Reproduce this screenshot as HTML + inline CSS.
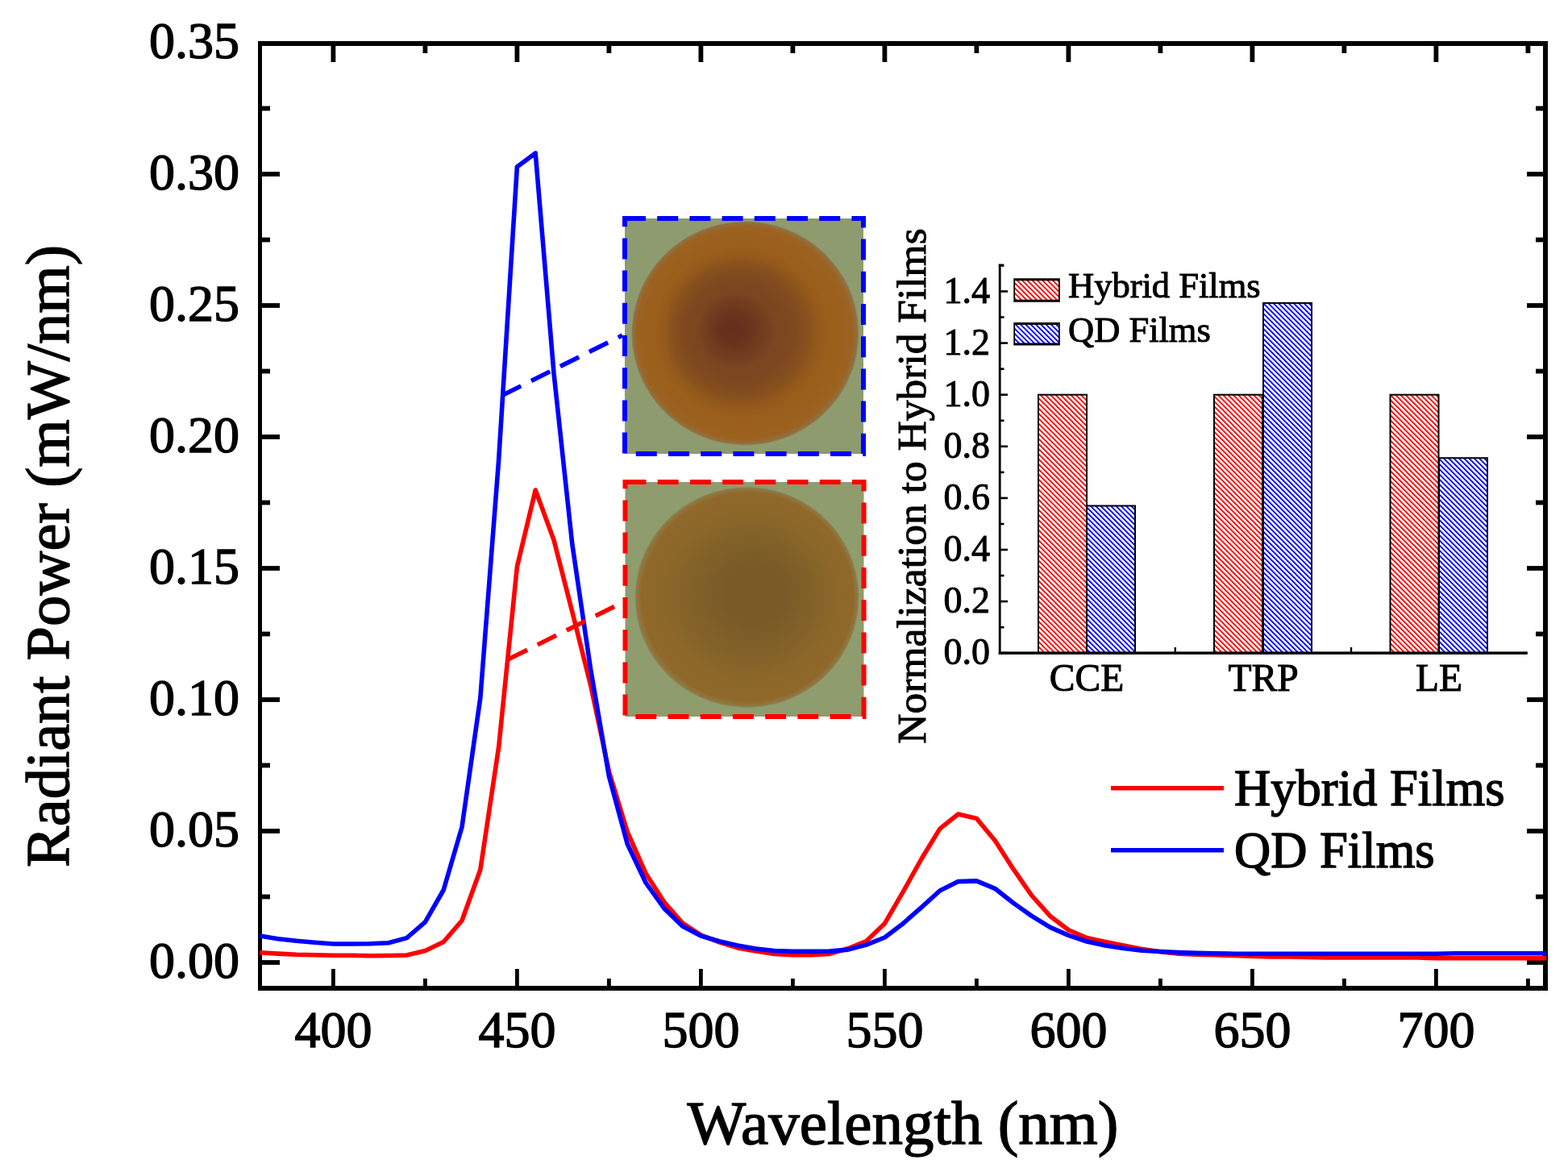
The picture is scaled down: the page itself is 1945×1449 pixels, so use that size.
<!DOCTYPE html>
<html><head><meta charset="utf-8"><title>Radiant Power spectrum</title>
<style>
html,body{margin:0;padding:0;background:#fff;}
svg{display:block}
text{font-family:'Liberation Serif','Times New Roman',serif;fill:#000;stroke:#000;stroke-width:1.4px}
.sm{stroke-width:1px}
</style></head><body>
<svg width="1945" height="1449" viewBox="0 0 1945 1449">
<defs>
<pattern id="hr" patternUnits="userSpaceOnUse" width="4.45" height="20" patternTransform="rotate(-45)">
<rect x="0" y="0" width="4.45" height="20" fill="#fff"/><rect x="0" y="0" width="1.9" height="20" fill="#ff0000"/></pattern>
<pattern id="hb" patternUnits="userSpaceOnUse" width="4.45" height="20" patternTransform="rotate(-45)">
<rect x="0" y="0" width="4.45" height="20" fill="#fff"/><rect x="0" y="0" width="1.9" height="20" fill="#0000ff"/></pattern>
<radialGradient id="gb" cx="0.5" cy="0.5" r="0.5" fx="0.44" fy="0.48">
<stop offset="0" stop-color="#64301c"/><stop offset="0.12" stop-color="#68331d"/><stop offset="0.24" stop-color="#713c1f"/>
<stop offset="0.34" stop-color="#7a4520"/><stop offset="0.5" stop-color="#7f4a1f"/><stop offset="0.6" stop-color="#88511d"/><stop offset="0.68" stop-color="#955a1b"/><stop offset="0.76" stop-color="#9b5e1b"/><stop offset="0.94" stop-color="#9c621f"/><stop offset="0.985" stop-color="#907042"/><stop offset="1" stop-color="#8e9b6e"/></radialGradient>
<radialGradient id="gr" cx="0.5" cy="0.5" r="0.5" fx="0.55" fy="0.48">
<stop offset="0" stop-color="#785926"/><stop offset="0.3" stop-color="#7b5b27"/><stop offset="0.55" stop-color="#836229"/>
<stop offset="0.75" stop-color="#8b6729"/><stop offset="0.94" stop-color="#90692a"/><stop offset="0.985" stop-color="#8d7a45"/><stop offset="1" stop-color="#8f9c6e"/></radialGradient>
</defs>

<rect x="775" y="271" width="296" height="292" fill="#8e9b6e"/>
<ellipse cx="924.5" cy="413.5" rx="141.5" ry="139.5" fill="url(#gb)"/>
<rect x="775.5" y="598" width="296" height="291" fill="#8f9c6e"/>
<ellipse cx="926.5" cy="741" rx="139.5" ry="137.5" fill="url(#gr)"/>
<rect x="775" y="271" width="296" height="292" fill="none" stroke="#0000ff" stroke-width="6" stroke-dasharray="26 14.2"/>
<rect x="775.5" y="598" width="296" height="291" fill="none" stroke="#ff0000" stroke-width="6" stroke-dasharray="26 14.2"/>
<g fill="#000">
<rect x="320" y="51" width="1600" height="6"/>
<rect x="320" y="1223" width="1600" height="6"/>
<rect x="320" y="51" width="5" height="1178"/>
<rect x="1914" y="51" width="6" height="1178"/>
<rect x="411.0" y="1202" width="4.8" height="21"/>
<rect x="410.5" y="57" width="5.8" height="20"/>
<rect x="525.0" y="1214" width="4.8" height="9"/>
<rect x="524.5" y="57" width="5.8" height="9"/>
<rect x="639.0" y="1202" width="4.8" height="21"/>
<rect x="638.5" y="57" width="5.8" height="20"/>
<rect x="753.0" y="1214" width="4.8" height="9"/>
<rect x="752.5" y="57" width="5.8" height="9"/>
<rect x="867.0" y="1202" width="4.8" height="21"/>
<rect x="866.5" y="57" width="5.8" height="20"/>
<rect x="981.0" y="1214" width="4.8" height="9"/>
<rect x="980.5" y="57" width="5.8" height="9"/>
<rect x="1095.0" y="1202" width="4.8" height="21"/>
<rect x="1094.5" y="57" width="5.8" height="20"/>
<rect x="1209.0" y="1214" width="4.8" height="9"/>
<rect x="1208.5" y="57" width="5.8" height="9"/>
<rect x="1323.0" y="1202" width="4.8" height="21"/>
<rect x="1322.5" y="57" width="5.8" height="20"/>
<rect x="1437.0" y="1214" width="4.8" height="9"/>
<rect x="1436.5" y="57" width="5.8" height="9"/>
<rect x="1551.0" y="1202" width="4.8" height="21"/>
<rect x="1550.5" y="57" width="5.8" height="20"/>
<rect x="1665.0" y="1214" width="4.8" height="9"/>
<rect x="1664.5" y="57" width="5.8" height="9"/>
<rect x="1779.0" y="1202" width="4.8" height="21"/>
<rect x="1778.5" y="57" width="5.8" height="20"/>
<rect x="1893.0" y="1214" width="4.8" height="9"/>
<rect x="1892.5" y="57" width="5.8" height="9"/>
<rect x="325" y="1191.1" width="22" height="5.8"/>
<rect x="1894" y="1191.1" width="20" height="5.8"/>
<rect x="325" y="1109.6" width="10" height="5.8"/>
<rect x="1905" y="1109.6" width="9" height="5.8"/>
<rect x="325" y="1028.1" width="22" height="5.8"/>
<rect x="1894" y="1028.1" width="20" height="5.8"/>
<rect x="325" y="946.6" width="10" height="5.8"/>
<rect x="1905" y="946.6" width="9" height="5.8"/>
<rect x="325" y="865.1" width="22" height="5.8"/>
<rect x="1894" y="865.1" width="20" height="5.8"/>
<rect x="325" y="783.6" width="10" height="5.8"/>
<rect x="1905" y="783.6" width="9" height="5.8"/>
<rect x="325" y="702.1" width="22" height="5.8"/>
<rect x="1894" y="702.1" width="20" height="5.8"/>
<rect x="325" y="620.6" width="10" height="5.8"/>
<rect x="1905" y="620.6" width="9" height="5.8"/>
<rect x="325" y="539.1" width="22" height="5.8"/>
<rect x="1894" y="539.1" width="20" height="5.8"/>
<rect x="325" y="457.6" width="10" height="5.8"/>
<rect x="1905" y="457.6" width="9" height="5.8"/>
<rect x="325" y="376.1" width="22" height="5.8"/>
<rect x="1894" y="376.1" width="20" height="5.8"/>
<rect x="325" y="294.6" width="10" height="5.8"/>
<rect x="1905" y="294.6" width="9" height="5.8"/>
<rect x="325" y="213.1" width="22" height="5.8"/>
<rect x="1894" y="213.1" width="20" height="5.8"/>
<rect x="325" y="131.6" width="10" height="5.8"/>
<rect x="1905" y="131.6" width="9" height="5.8"/>
</g>
<text x="297" y="1213.0" font-size="64" text-anchor="end">0.00</text>
<text x="297" y="1050.0" font-size="64" text-anchor="end">0.05</text>
<text x="297" y="887.0" font-size="64" text-anchor="end">0.10</text>
<text x="297" y="724.0" font-size="64" text-anchor="end">0.15</text>
<text x="297" y="561.0" font-size="64" text-anchor="end">0.20</text>
<text x="297" y="398.0" font-size="64" text-anchor="end">0.25</text>
<text x="297" y="235.0" font-size="64" text-anchor="end">0.30</text>
<text x="297" y="72.0" font-size="64" text-anchor="end">0.35</text>
<text x="413.4" y="1299" font-size="64" text-anchor="middle">400</text>
<text x="641.4" y="1299" font-size="64" text-anchor="middle">450</text>
<text x="869.4" y="1299" font-size="64" text-anchor="middle">500</text>
<text x="1097.4" y="1299" font-size="64" text-anchor="middle">550</text>
<text x="1325.4" y="1299" font-size="64" text-anchor="middle">600</text>
<text x="1553.4" y="1299" font-size="64" text-anchor="middle">650</text>
<text x="1781.4" y="1299" font-size="64" text-anchor="middle">700</text>
<text x="1120" y="1419" font-size="77" text-anchor="middle">Wavelength (nm)</text>
<text transform="translate(85,690) rotate(-90)" x="0" y="0" font-size="76.4" text-anchor="middle">Radiant Power (mW/nm)</text>
<path d="M322.2,1181.8 L345.0,1183.1 L367.8,1184.2 L390.6,1184.7 L413.4,1185.2 L436.2,1185.3 L459.0,1185.7 L481.8,1185.5 L504.6,1185.0 L527.4,1179.5 L550.2,1168.5 L573.0,1142.0 L595.8,1079.0 L618.6,927.0 L641.4,703.0 L664.2,608.0 L687.0,670.0 L709.8,759.0 L732.6,850.0 L755.4,957.0 L778.2,1032.0 L801.0,1083.5 L823.8,1119.0 L846.6,1145.0 L869.4,1160.0 L892.2,1168.8 L915.0,1175.9 L937.8,1179.9 L960.6,1183.4 L983.4,1184.6 L1006.2,1184.6 L1029.0,1183.4 L1051.8,1176.8 L1074.6,1167.5 L1097.4,1145.7 L1120.2,1106.3 L1143.0,1065.5 L1165.8,1028.1 L1188.6,1010.0 L1211.4,1015.4 L1234.2,1042.8 L1257.0,1078.2 L1279.8,1111.0 L1302.6,1136.4 L1325.4,1153.7 L1348.2,1163.5 L1371.0,1168.5 L1393.8,1173.1 L1416.6,1177.5 L1439.4,1180.8 L1462.2,1183.2 L1485.0,1184.2 L1507.8,1184.7 L1530.6,1185.5 L1553.4,1186.2 L1576.2,1187.0 L1599.0,1187.0 L1621.8,1187.5 L1644.6,1188.0 L1667.4,1188.0 L1690.2,1188.0 L1713.0,1188.0 L1735.8,1188.0 L1758.6,1188.0 L1781.4,1188.7 L1804.2,1188.7 L1827.0,1188.7 L1849.8,1188.7 L1872.6,1188.7 L1895.4,1188.7 L1918.2,1188.7" fill="none" stroke="#ff0000" stroke-width="5.6" stroke-linejoin="round"/>
<path d="M322.2,1161.0 L345.0,1164.7 L367.8,1167.3 L390.6,1169.2 L413.4,1171.0 L436.2,1171.0 L459.0,1170.7 L481.8,1169.8 L504.6,1163.6 L527.4,1143.8 L550.2,1104.0 L573.0,1026.0 L595.8,866.0 L618.6,571.0 L641.4,207.0 L664.2,190.0 L687.0,463.0 L709.8,675.0 L732.6,830.0 L755.4,963.0 L778.2,1047.0 L801.0,1095.0 L823.8,1127.0 L846.6,1149.0 L869.4,1161.0 L892.2,1167.7 L915.0,1173.0 L937.8,1177.0 L960.6,1179.5 L983.4,1180.4 L1006.2,1180.4 L1029.0,1180.1 L1051.8,1178.1 L1074.6,1172.1 L1097.4,1163.0 L1120.2,1145.7 L1143.0,1125.7 L1165.8,1105.0 L1188.6,1093.6 L1211.4,1092.9 L1234.2,1102.3 L1257.0,1120.3 L1279.8,1136.4 L1302.6,1150.4 L1325.4,1160.4 L1348.2,1168.0 L1371.0,1173.1 L1393.8,1176.5 L1416.6,1179.3 L1439.4,1180.5 L1462.2,1181.6 L1485.0,1182.4 L1507.8,1182.7 L1530.6,1183.2 L1553.4,1183.3 L1576.2,1183.3 L1599.0,1183.3 L1621.8,1183.3 L1644.6,1183.3 L1667.4,1183.3 L1690.2,1183.3 L1713.0,1183.3 L1735.8,1183.3 L1758.6,1183.3 L1781.4,1183.3 L1804.2,1182.8 L1827.0,1182.8 L1849.8,1182.8 L1872.6,1182.8 L1895.4,1182.8 L1918.2,1182.8" fill="none" stroke="#0000ff" stroke-width="5.6" stroke-linejoin="round"/>
<line x1="623" y1="490.5" x2="772" y2="416" stroke="#0000ff" stroke-width="5.5" stroke-dasharray="26 14.2"/>
<line x1="630.8" y1="817.8" x2="772" y2="747.5" stroke="#ff0000" stroke-width="5.5" stroke-dasharray="26 14.2"/>
<rect x="1378" y="975" width="140" height="5.5" fill="#ff0000"/>
<rect x="1378" y="1052" width="140" height="5.5" fill="#0000ff"/>
<text x="1531" y="999" font-size="62.6">Hybrid Films</text>
<text x="1531" y="1076" font-size="62.6">QD Films</text>
<g>
<rect x="1288" y="489.7" width="60" height="320.5" fill="url(#hr)" stroke="#000" stroke-width="2"/>
<rect x="1348" y="627.5" width="60" height="182.7" fill="url(#hb)" stroke="#000" stroke-width="2"/>
<rect x="1506" y="489.7" width="60" height="320.5" fill="url(#hr)" stroke="#000" stroke-width="2"/>
<rect x="1567" y="375.9" width="60" height="434.3" fill="url(#hb)" stroke="#000" stroke-width="2"/>
<rect x="1724.5" y="489.7" width="60" height="320.5" fill="url(#hr)" stroke="#000" stroke-width="2"/>
<rect x="1785" y="568.2" width="60" height="242.0" fill="url(#hb)" stroke="#000" stroke-width="2"/>
</g>
<g fill="#000">
<rect x="1238.8" y="328" width="2.8" height="484"/>
<rect x="1238.8" y="808.4" width="656" height="3.5"/>
<rect x="1241" y="808.9" width="9" height="2.6"/>
<rect x="1241" y="776.9" width="4.5" height="2.6"/>
<rect x="1241" y="744.8" width="9" height="2.6"/>
<rect x="1241" y="712.8" width="4.5" height="2.6"/>
<rect x="1241" y="680.7" width="9" height="2.6"/>
<rect x="1241" y="648.7" width="4.5" height="2.6"/>
<rect x="1241" y="616.6" width="9" height="2.6"/>
<rect x="1241" y="584.6" width="4.5" height="2.6"/>
<rect x="1241" y="552.5" width="9" height="2.6"/>
<rect x="1241" y="520.5" width="4.5" height="2.6"/>
<rect x="1241" y="488.4" width="9" height="2.6"/>
<rect x="1241" y="456.4" width="4.5" height="2.6"/>
<rect x="1241" y="424.3" width="9" height="2.6"/>
<rect x="1241" y="392.2" width="4.5" height="2.6"/>
<rect x="1241" y="360.2" width="9" height="2.6"/>
<rect x="1241" y="328.2" width="4.5" height="2.6"/>
<rect x="1238.8" y="327.5" width="6" height="2.6"/>
<rect x="1456.6" y="803" width="2.4" height="6"/>
<rect x="1674.8" y="803" width="2.4" height="6"/>
</g>
<text class="sm" x="1228" y="824.2" font-size="46" text-anchor="end">0.0</text>
<text class="sm" x="1228" y="760.1" font-size="46" text-anchor="end">0.2</text>
<text class="sm" x="1228" y="696.0" font-size="46" text-anchor="end">0.4</text>
<text class="sm" x="1228" y="631.9" font-size="46" text-anchor="end">0.6</text>
<text class="sm" x="1228" y="567.8" font-size="46" text-anchor="end">0.8</text>
<text class="sm" x="1228" y="503.7" font-size="46" text-anchor="end">1.0</text>
<text class="sm" x="1228" y="439.6" font-size="46" text-anchor="end">1.2</text>
<text class="sm" x="1228" y="375.5" font-size="46" text-anchor="end">1.4</text>
<text class="sm" x="1348" y="857" font-size="47.5" text-anchor="middle">CCE</text>
<text class="sm" x="1567" y="857" font-size="47.5" text-anchor="middle">TRP</text>
<text class="sm" x="1785" y="857" font-size="47.5" text-anchor="middle">LE</text>
<text class="sm" transform="translate(1147.5,603) rotate(-90)" font-size="51.5" text-anchor="middle">Normalization to Hybrid Films</text>
<rect x="1258.3" y="346.2" width="55.5" height="27.5" fill="url(#hr)"/>
<path d="M1257.3,345.2h57.5v29.5h-57.5z M1259.1,348.2v23.5h53.9v-23.5z" fill="#000" fill-rule="evenodd"/>
<rect x="1258.3" y="401.0" width="55.5" height="26.4" fill="url(#hb)"/>
<path d="M1257.3,400h57.5v28.4h-57.5z M1259.1,403.0v22.4h53.9v-22.4z" fill="#000" fill-rule="evenodd"/>
<text class="sm" x="1325" y="368.8" font-size="44.5">Hybrid Films</text>
<text class="sm" x="1325" y="423.5" font-size="44.5">QD Films</text>
</svg></body></html>
